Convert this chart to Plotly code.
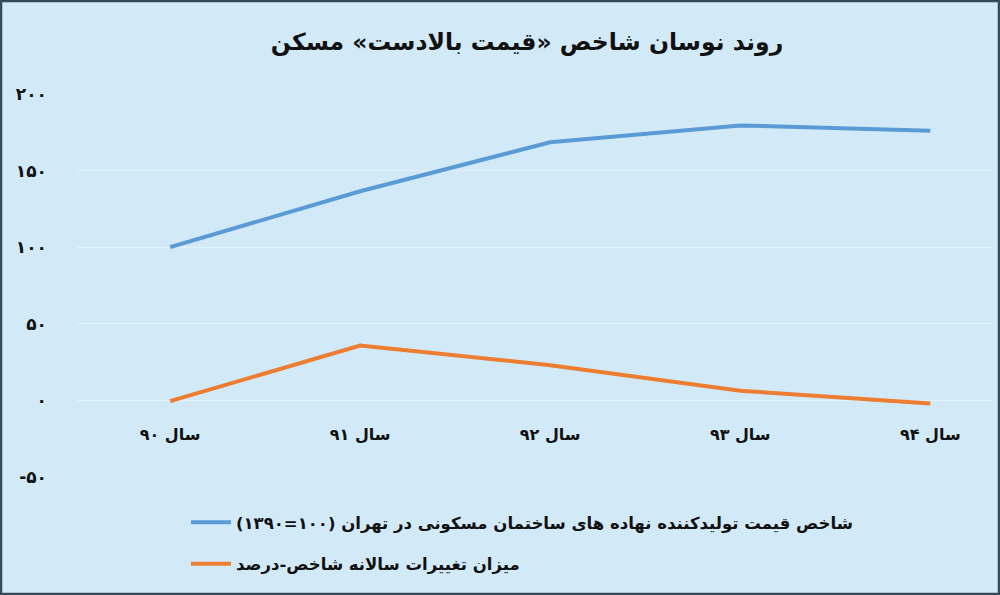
import plotly.graph_objects as go

categories = ["سال ۹۰", "سال ۹۱", "سال ۹۲", "سال ۹۳", "سال ۹۴"]
index_values = [100, 136.5, 168.5, 179.5, 176]
change_values = [-0.5, 35.8, 23, 6.3, -2]
series_names = [
    "\u200fشاخص قیمت تولیدکننده نهاده های ساختمان مسکونی در تهران (۱۰۰=۱۳۹۰)\u200f",
    "\u200fمیزان تغییرات سالانه شاخص-درصد\u200f",
]
y_tickvals = [-50, 0, 50, 100, 150, 200]
y_ticktext = ["-۵۰", "۰", "۵۰", "۱۰۰", "۱۵۰", "۲۰۰"]
title_text = "روند نوسان شاخص «قیمت بالادست» مسکن"

BG = "#D2EAF8"
FONT = "DejaVu Sans"

fig = go.Figure()
fig.add_trace(go.Scatter(x=categories, y=index_values, mode="lines", name="<b>" + series_names[0] + "</b>",
                         legendgroup="a", line=dict(color="#5B9BD5", width=4)))
fig.add_trace(go.Scatter(x=categories, y=change_values, mode="lines", name="<b>" + series_names[1] + "</b>",
                         legendgroup="b", line=dict(color="#ED7D31", width=4)))

L, R, T, B = 77, 7, 94, 118
W, H = 1000, 595
pw, ph = W - L - R, H - T - B

fig.update_layout(
    width=W, height=H,
    margin=dict(l=L, r=R, t=T, b=B),
    paper_bgcolor=BG, plot_bgcolor=BG,
    font=dict(family=FONT, color="#111111"),
    title=dict(text="<b>" + title_text + "</b>", x=0.527, xanchor="center", y=0.93, yanchor="middle",
               font=dict(size=23.5, family=FONT, color="#111111")),
    showlegend=True,
    legend=dict(x=(186 - L) / pw, xanchor="left", y=-(505 - 477) / ph, yanchor="top",
                bgcolor="rgba(0,0,0,0)", font=dict(size=16.5, family=FONT, color="#111111"),
                tracegroupgap=17, itemwidth=40),
    xaxis=dict(type="category", range=[-0.49, 4.33], showgrid=False, zeroline=False,
               showline=False, anchor="free", position=(477 - 400) / ph,
               ticks="", ticklabelstandoff=23,
               tickvals=categories, ticktext=["<b>" + c + "</b>" for c in categories],
               tickfont=dict(size=16, family=FONT, color="#111111")),
    yaxis=dict(range=[-50, 200], tickvals=y_tickvals, ticktext=["<b>" + t + "</b>" for t in y_ticktext],
               showgrid=True, gridcolor="#E3F1FB", gridwidth=1,
               zeroline=False, showline=False, ticks="", ticklabelstandoff=29,
               tickfont=dict(size=17, family=FONT, color="#111111")),
)

fig.add_shape(type="rect", xref="paper", yref="paper",
              x0=-(L - 1) / pw, x1=(W - L - 1) / pw, y0=-(B - 1) / ph, y1=(H - B - 1) / ph,
              line=dict(color="#34495A", width=2.5), fillcolor="rgba(0,0,0,0)", layer="above")

fig.write_html("out.html", config={"displayModeBar": False},
               post_script="document.body.style.margin='0';document.body.style.overflow='hidden';")
